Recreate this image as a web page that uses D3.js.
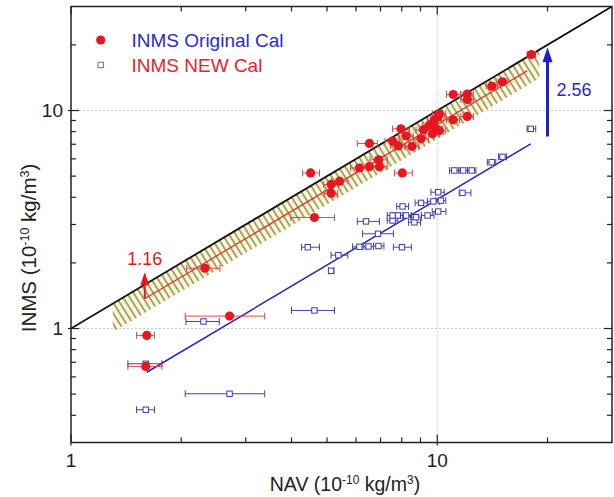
<!DOCTYPE html>
<html><head><meta charset="utf-8">
<script src="https://cdn.jsdelivr.net/npm/d3@7"></script>
<style>body{margin:0;background:#fff}svg{display:block}text{font-family:"Liberation Sans",Arial,sans-serif}</style>
</head><body><svg id="c" width="614" height="497"></svg>
<script>
// ---- data ----
const xDomain = [1, 30];
const yDomain = [0.3, 30];
const xTickLabels = [1, 10];
const yTickLabels = [1, 10];
const xMinorTicks = [2,3,4,5,6,7,8,9,20];
const yMinorTicks = [0.4,0.5,0.6,0.7,0.8,0.9,2,3,4,5,6,7,8,9,20];
const gridX = [10];
const gridY = [1, 10];

const redX   = [1.61,1.60,2.32,2.71,4.51,4.62,5.13,5.41,5.13,6.13,6.53,6.53,6.92,6.95,8.03,7.96,8.22,7.55,7.83,8.53,9.03,9.16,9.51,9.81,10.02,10.13,9.92,10.13,9.71,11.06,12.07,12.09,11.06,12.07,14.10,15.07,18.07];
const redY   = [0.93,0.67,1.89,1.14,5.17,3.23,4.58,4.74,4.17,5.45,5.53,7.06,5.94,5.52,5.17,8.24,7.64,7.24,6.88,6.84,7.42,8.16,8.54,9.00,9.32,9.66,8.24,8.09,7.82,11.84,11.90,11.23,9.06,9.39,12.95,13.54,18.07];
const redXlo = [1.51,1.43,2.07,2.05,4.29,3.98,4.90,5.15,4.92,5.80,6.20,6.05,6.55,6.60,7.64,7.55,7.85,7.20,7.45,8.15,8.60,8.75,9.10,9.40,9.60,9.70,9.50,9.70,9.30,10.60,11.60,11.60,10.60,11.60,13.60,14.55,17.60];
const redXhi = [1.69,1.77,2.55,3.38,4.77,5.24,5.38,5.70,5.35,6.50,6.90,6.86,7.30,7.30,8.55,8.40,8.60,7.90,8.20,8.90,9.45,9.60,9.95,10.25,10.45,10.55,10.35,10.55,10.15,11.55,12.55,12.55,11.50,12.55,14.60,15.60,18.55];

const blueX   = [1.60,1.60,2.71,2.30,4.62,4.43,5.37,5.13,6.39,6.89,6.13,6.49,6.91,8.01,7.80,8.04,7.55,8.22,8.66,9.41,10.06,9.03,9.76,10.06,11.72,11.13,11.77,12.42,14.08,15.07,18.0,7.55,8.75,10.23];
const blueY   = [0.424,0.689,0.502,1.077,1.21,2.36,2.17,1.84,3.10,2.72,2.37,2.38,2.39,2.36,3.30,3.63,3.13,3.30,3.07,3.30,3.44,3.77,3.83,4.22,4.19,5.31,5.31,5.31,5.79,6.13,8.24,3.30,3.24,3.86];
const blueXlo = [1.51,1.43,2.05,2.06,4.00,4.26,5.13,5.05,6.05,6.25,5.87,6.30,6.70,7.59,7.55,7.75,7.30,7.95,8.35,9.05,9.69,8.70,9.40,9.61,11.48,10.80,11.45,12.10,13.70,14.70,17.59,7.30,8.45,9.90];
const blueXhi = [1.69,1.77,3.38,2.54,5.24,4.77,5.70,5.22,6.95,7.59,6.40,6.70,7.15,8.50,8.05,8.35,7.80,8.50,9.00,9.80,10.56,9.40,10.15,10.45,12.36,11.45,12.10,12.75,14.45,15.45,18.57,7.80,9.05,10.55];

const oneToOne = [[1,1],[30,30]];
const redFit = [[1.59,1.37],[17.6,15.2]];
const blueFit = [[1.61,0.63],[18.0,7.03]];
const bandX = [1.30, 19.0];
const bandHi = [1.30, 19.0];
const bandLo = [0.963, 14.07];
const redArrow = {x:1.59, y0:1.37, y1:1.81, label:"1.16"};
const blueArrow = {x:20.0, y0:7.6, y1:19.5, label:"2.56"};
const legendLabels = ["INMS Original Cal", "INMS NEW Cal"];

// ---- drawing ----
const svg = d3.select("#c");
const L=71, R=612, T=6.5, B=442.5;
const x = d3.scaleLog().domain(xDomain).range([L,R]);
const y = d3.scaleLog().domain(yDomain).range([B,T]);
const RED="#e8161e", BLUE="#2626b8";

const defs = svg.append("defs");
const pat = defs.append("pattern").attr("id","hatch").attr("patternUnits","userSpaceOnUse")
  .attr("width",5.6).attr("height",10).attr("patternTransform","rotate(-32)");
pat.append("rect").attr("width",5.6).attr("height",10).attr("fill","#fbf7df");
pat.append("line").attr("x1",2.8).attr("x2",2.8).attr("y1",0).attr("y2",10)
  .attr("stroke","#8f8c45").attr("stroke-width",1.5);
defs.append("clipPath").attr("id","plot").append("rect").attr("x",L).attr("y",T).attr("width",R-L).attr("height",B-T);

// grid
svg.append("g").selectAll("line").data(gridX).join("line")
  .attr("x1",d=>x(d)).attr("x2",d=>x(d)).attr("y1",T).attr("y2",B)
  .attr("stroke","#c8c8c8").attr("stroke-dasharray","2,2");
svg.append("g").selectAll("line").data(gridY).join("line")
  .attr("y1",d=>y(d)).attr("y2",d=>y(d)).attr("x1",L).attr("x2",R)
  .attr("stroke","#c8c8c8").attr("stroke-dasharray","2,2");

const g = svg.append("g").attr("clip-path","url(#plot)");
// band
const bandPts = [[bandX[0],bandHi[0]],[bandX[1],bandHi[1]],[bandX[1],bandLo[1]],[bandX[0],bandLo[0]]];
g.append("path").attr("d", "M"+bandPts.map(p=>[x(p[0]),y(p[1])].join(",")).join("L")+"Z")
  .attr("fill","url(#hatch)");

const line = d3.line().x(d=>x(d[0])).y(d=>y(d[1]));
g.append("path").attr("d",line(redFit)).attr("stroke","#e03a2a").attr("stroke-width",1.3).attr("fill","none");
g.append("path").attr("d",line(oneToOne)).attr("stroke","#111").attr("stroke-width",1.8).attr("fill","none");
g.append("path").attr("d",line(blueFit)).attr("stroke",BLUE).attr("stroke-width",1.5).attr("fill","none");

function errbars(sel, X, Y, lo, hi, col){
  const gg = sel.append("g").attr("stroke",col).attr("stroke-width",1).attr("fill","none");
  X.forEach((v,i)=>{
    const yy=y(Y[i]), a=x(lo[i]), b=x(hi[i]);
    gg.append("line").attr("x1",a).attr("x2",b).attr("y1",yy).attr("y2",yy);
    gg.append("line").attr("x1",a).attr("x2",a).attr("y1",yy-3.5).attr("y2",yy+3.5);
    gg.append("line").attr("x1",b).attr("x2",b).attr("y1",yy-3.5).attr("y2",yy+3.5);
  });
}
errbars(g, blueX, blueY, blueXlo, blueXhi, "#4444aa");
g.append("g").selectAll("rect").data(blueX).join("rect")
  .attr("x",(d,i)=>x(d)-2.7).attr("y",(d,i)=>y(blueY[i])-2.7).attr("width",5.4).attr("height",5.4)
  .attr("fill","#fff").attr("stroke","#3a3ab0").attr("stroke-width",1);
errbars(g, redX, redY, redXlo, redXhi, "#e04848");
g.append("g").selectAll("circle").data(redX).join("circle")
  .attr("cx",d=>x(d)).attr("cy",(d,i)=>y(redY[i])).attr("r",4.6).attr("fill",RED);

// arrows
function arrow(a, col, sw, hl, hw){
  const xx=x(a.x), y0=y(a.y0), y1=y(a.y1);
  svg.append("line").attr("x1",xx).attr("x2",xx).attr("y1",y0).attr("y2",y1+hl-1).attr("stroke",col).attr("stroke-width",sw);
  svg.append("path").attr("d",`M${xx},${y1}L${xx-hw/2},${y1+hl}L${xx+hw/2},${y1+hl}Z`).attr("fill",col);
}
arrow(redArrow, RED, 2, 13, 9);
arrow(blueArrow, "#1f1fd0", 3, 15, 10);
svg.append("text").attr("x",x(redArrow.x)).attr("y",y(redArrow.y1)-7).attr("text-anchor","middle")
  .attr("font-size",18).attr("fill",RED).text(redArrow.label);
svg.append("text").attr("x",x(blueArrow.x)+9).attr("y",y(blueArrow.y0)-40).attr("text-anchor","start")
  .attr("font-size",18).attr("fill","#2a2ad0").text(blueArrow.label);

// frame and ticks
svg.append("rect").attr("x",L).attr("y",T).attr("width",R-L).attr("height",B-T).attr("fill","none").attr("stroke","#222").attr("stroke-width",1.5);
const tk = svg.append("g").attr("stroke","#222").attr("stroke-width",1.2);
function xt(v,len){ tk.append("line").attr("x1",x(v)).attr("x2",x(v)).attr("y1",B).attr("y2",B-len);
  tk.append("line").attr("x1",x(v)).attr("x2",x(v)).attr("y1",T).attr("y2",T+len); }
function yt(v,len){ tk.append("line").attr("y1",y(v)).attr("y2",y(v)).attr("x1",L).attr("x2",L+len);
  tk.append("line").attr("y1",y(v)).attr("y2",y(v)).attr("x1",R).attr("x2",R-len); }
xMinorTicks.forEach(v=>xt(v,5)); xTickLabels.forEach(v=>xt(v,8));
yMinorTicks.forEach(v=>yt(v,5)); yTickLabels.forEach(v=>yt(v,8));
tk.selectAll("line").filter(function(){return +d3.select(this).attr("x1")===L && +d3.select(this).attr("x2")===L+8;})
  .attr("x1",L-3);
tk.selectAll("line").filter(function(){return +d3.select(this).attr("y1")===B && +d3.select(this).attr("y2")===B-8;})
  .attr("y1",B+3);

svg.append("g").selectAll("text").data(xTickLabels).join("text")
  .attr("x",d=>x(d)).attr("y",467).attr("text-anchor","middle").attr("font-size",19).attr("fill","#222").text(d=>d);
svg.append("g").selectAll("text").data(yTickLabels).join("text")
  .attr("x",63).attr("y",d=>y(d)+6.5).attr("text-anchor","end").attr("font-size",19).attr("fill","#222").text(d=>d);

// axis titles
const xl = svg.append("text").attr("x",345).attr("y",491).attr("text-anchor","middle").attr("font-size",19.5).attr("fill","#222");
xl.append("tspan").text("NAV (10");
xl.append("tspan").attr("dy",-7).attr("font-size",12).text("-10");
xl.append("tspan").attr("dy",7).text(" kg/m");
xl.append("tspan").attr("dy",-7).attr("font-size",12).text("3");
xl.append("tspan").attr("dy",7).text(")");
const yl = svg.append("text").attr("transform","translate(36,248) rotate(-90)").attr("text-anchor","middle").attr("font-size",20.5).attr("fill","#222");
yl.append("tspan").text("INMS (10");
yl.append("tspan").attr("dy",-7).attr("font-size",12.5).text("-10");
yl.append("tspan").attr("dy",7).text(" kg/m");
yl.append("tspan").attr("dy",-7).attr("font-size",12.5).text("3");
yl.append("tspan").attr("dy",7).text(")");

// legend
svg.append("circle").attr("cx",100.7).attr("cy",40).attr("r",4.6).attr("fill",RED);
svg.append("rect").attr("x",98).attr("y",62.3).attr("width",5.4).attr("height",5.4).attr("fill","#fff").attr("stroke","#6a6ab8").attr("stroke-width",1);
svg.append("text").attr("x",131.5).attr("y",47).attr("font-size",19).attr("fill","#2b2bcc").text(legendLabels[0]);
svg.append("text").attr("x",131.5).attr("y",72).attr("font-size",19).attr("fill","#e8242a").text(legendLabels[1]);
</script></body></html>
